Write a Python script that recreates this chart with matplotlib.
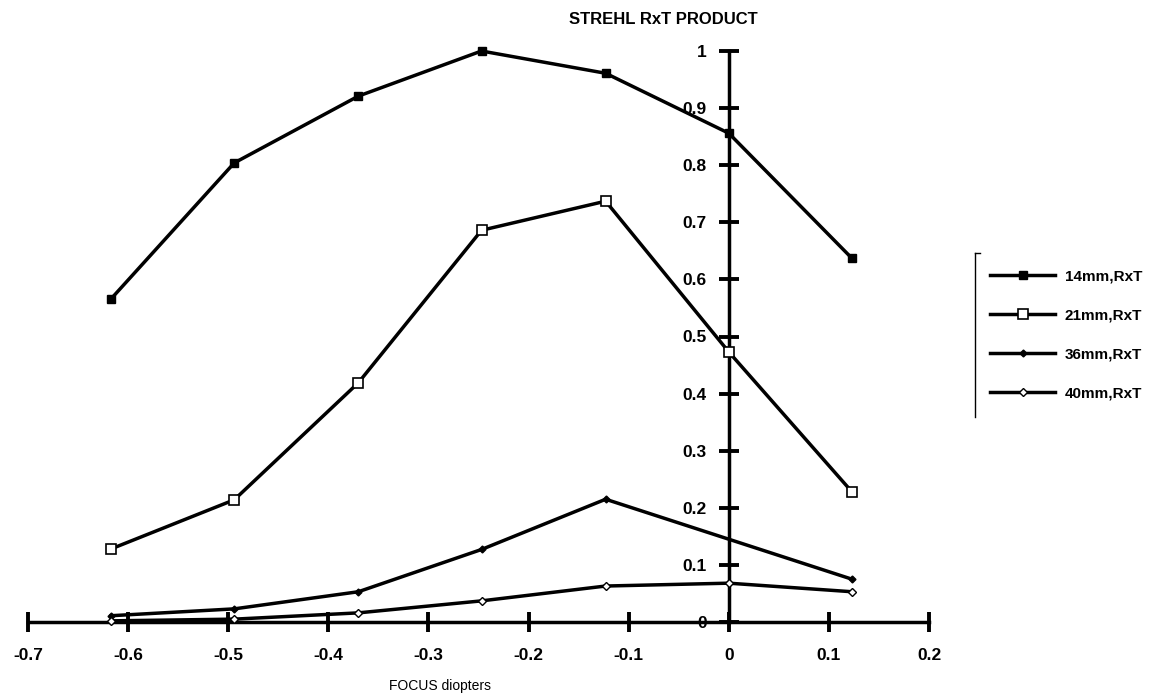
import numpy as np
import matplotlib
matplotlib.use("Agg")
import matplotlib.pyplot as plt
from matplotlib.lines import Line2D

plt.rcParams['font.family'] = ['Liberation Sans', 'DejaVu Sans']

# focus positions (diopters)
focus = [-0.617, -0.494, -0.370, -0.247, -0.123, 0.0, 0.123]
focus_36 = [-0.617, -0.494, -0.370, -0.247, -0.123, 0.123]

# Strehl RxT product per pupil size
s14 = [0.566, 0.804, 0.921, 1.0, 0.961, 0.856, 0.637]
s21 = [0.128, 0.214, 0.419, 0.686, 0.737, 0.473, 0.228]
s36 = [0.011, 0.023, 0.053, 0.127, 0.215, 0.075]
s40 = [0.002, 0.005, 0.016, 0.037, 0.063, 0.068, 0.053]

labels = ["14mm,RxT", "21mm,RxT", "36mm,RxT", "40mm,RxT"]
xticks = [-0.7, -0.6, -0.5, -0.4, -0.3, -0.2, -0.1, 0, 0.1, 0.2]
yticks = [0, 0.1, 0.2, 0.3, 0.4, 0.5, 0.6, 0.7, 0.8, 0.9, 1]

W, H = 1149, 694
fig = plt.figure(figsize=(W / 100, H / 100), dpi=100)
ax = fig.add_axes([28 / W, (H - 622) / H, 901 / W, 571 / H])

lw = 2.5
h1, = ax.plot(focus, s14, color='black', lw=lw, marker='s', ms=5.5, mfc='black', clip_on=False, zorder=5)
h2, = ax.plot(focus, s21, color='black', lw=lw, marker='s', ms=6.5, mfc='white', mew=1.2, clip_on=False, zorder=5)
h3, = ax.plot(focus_36, s36, color='black', lw=lw, marker='D', ms=3.5, mfc='black', clip_on=False, zorder=5)
h4, = ax.plot(focus, s40, color='black', lw=lw, marker='D', ms=4, mfc='white', mew=1.0, clip_on=False, zorder=5)

ax.set_xlim(-0.7, 0.2)
ax.set_ylim(0, 1)

for s in ['top', 'right']:
    ax.spines[s].set_visible(False)
ax.spines['left'].set_position(('data', 0))
ax.spines['bottom'].set_position(('data', 0))
ax.spines['left'].set_linewidth(2.5)
ax.spines['bottom'].set_linewidth(2.5)

ax.set_xticks(xticks)
ax.set_xticklabels(["-0.7", "-0.6", "-0.5", "-0.4", "-0.3", "-0.2", "-0.1", "0", "0.1", "0.2"])
ax.set_yticks(yticks)
ax.set_yticklabels(["0", "0.1", "0.2", "0.3", "0.4", "0.5", "0.6", "0.7", "0.8", "0.9", "1"])
ax.tick_params(axis='both', direction='inout', length=14, width=2.8, labelsize=12.5)
ax.tick_params(axis='x', pad=12)
ax.tick_params(axis='y', pad=9)
for t in ax.get_xticklabels() + ax.get_yticklabels():
    t.set_fontweight('bold')

fig.text(663 / W, 1 - 20 / H, "STREHL RxT PRODUCT", ha='center', va='center',
         fontsize=12, fontweight='bold')
fig.text(440 / W, 1 - 686 / H, "FOCUS diopters", ha='center', va='center', fontsize=10)

leg = fig.legend([h1, h2, h3, h4], labels, loc='upper left',
                 bbox_to_anchor=(976 / W, 1 - 256 / H), frameon=False,
                 handlelength=4.3, handletextpad=0.6, labelspacing=1.62,
                 prop={'weight': 'bold', 'size': 11})

# bracket on the left of the legend
fig.add_artist(Line2D([975 / W, 975 / W], [1 - 253 / H, 1 - 417 / H], color='black', lw=1.0))
fig.add_artist(Line2D([975 / W, 980 / W], [1 - 253 / H, 1 - 253 / H], color='black', lw=1.0))

fig.savefig("out.png", dpi=100)
